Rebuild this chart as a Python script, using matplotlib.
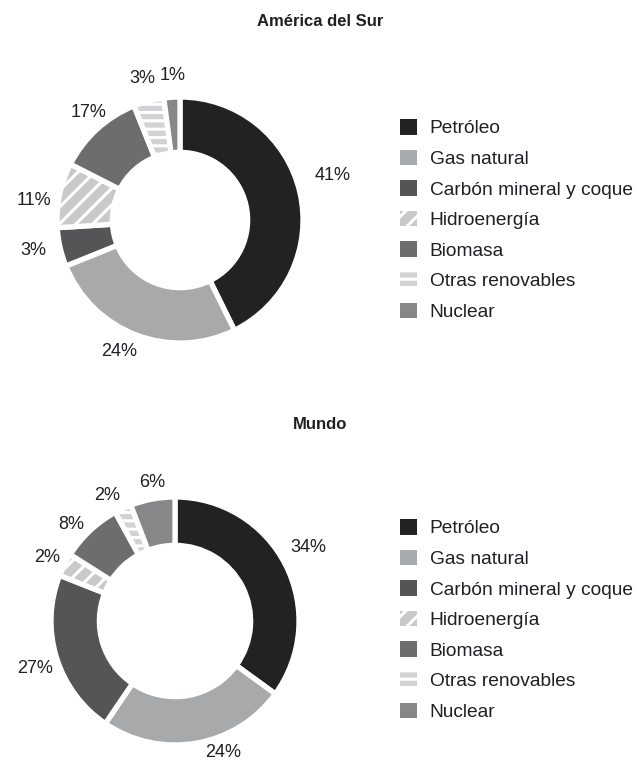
import matplotlib
matplotlib.use('Agg')
import matplotlib.pyplot as plt
from matplotlib.patches import Patch
import numpy as np

W, H = 638, 764

sources = ['Petróleo', 'Gas natural', 'Carbón mineral y coque', 'Hidroenergía',
           'Biomasa', 'Otras renovables', 'Nuclear']
# printed labels
sur_pct = [41, 24, 3, 11, 17, 3, 1]
mundo_pct = [34, 24, 27, 2, 8, 2, 6]
# wedge sizes as drawn in the source chart (they do not follow the labels exactly)
sur_drawn = [42.7, 26.2, 5.1, 8.5, 11.4, 4.0, 2.1]
mundo_drawn = [35.0, 24.5, 21.5, 3.0, 8.0, 2.2, 5.8]

colors = ['#222222', '#a8a9ab', '#555557', '#c9c9cb', '#6d6d6f', '#d2d2d4', '#878789']
hatches = [None, None, None, '//', None, '--', None]
TXT = '#1f1f24'

# label placement: (angle shift from wedge middle in degrees, radius)
sur_lbl = [(3, 1.29), (-4, 1.18), (-1, 1.22), (4, 1.20), (-2, 1.15), (0, 1.19), (-1, 1.18)]
mundo_lbl = [(2, 1.23), (10, 1.13), (1.5, 1.19), (0.5, 1.15), (4, 1.14), (3.5, 1.15), (-1, 1.13)]

plt.rcParams['font.family'] = ['Liberation Sans', 'DejaVu Sans']
plt.rcParams['hatch.linewidth'] = 2.2

fig = plt.figure(figsize=(W / 100, H / 100), dpi=100)


def px_axes(cx, cy, r):
    return fig.add_axes([(cx - r) / W, (H - cy - r) / H, 2 * r / W, 2 * r / H])


def donut(ax, sizes, labels, width, lbl_pos):
    wedges, _ = ax.pie(sizes, colors=colors, startangle=90, counterclock=False,
                       wedgeprops=dict(width=width, edgecolor='white', linewidth=3.8))
    for w, h in zip(wedges, hatches):
        if h:
            w.set_hatch(h)
    ax.set_xlim(-1, 1)
    ax.set_ylim(-1, 1)
    for w, v, (shift, r) in zip(wedges, labels, lbl_pos):
        ang = np.deg2rad((w.theta1 + w.theta2) / 2 + shift)
        ax.text(r * np.cos(ang), r * np.sin(ang), f'{v}%',
                ha='center', va='center', fontsize=13, color=TXT)


def legend_at(x, y_top):
    handles = [Patch(facecolor=c, edgecolor='white', linewidth=0, hatch=h)
               for c, h in zip(colors, hatches)]
    fig.legend(handles, sources, loc='upper left',
               bbox_to_anchor=(x / W, (H - y_top) / H), frameon=False,
               fontsize=13.8, handlelength=0.88, handleheight=0.88,
               handletextpad=0.66, labelspacing=0.634, borderpad=0,
               borderaxespad=0, labelcolor=TXT)


fig.text(320 / W, 1 - 22 / H, 'América del Sur', ha='center', va='center',
         fontsize=12, fontweight='bold', color=TXT)
ax1 = px_axes(180, 220, 123)
donut(ax1, sur_drawn, sur_pct, 0.45, sur_lbl)
legend_at(400, 119)

fig.text(320 / W, 1 - 425 / H, 'Mundo', ha='center', va='center',
         fontsize=12, fontweight='bold', color=TXT)
ax2 = px_axes(175, 621, 124)
donut(ax2, mundo_drawn, mundo_pct, 0.39, mundo_lbl)
legend_at(400, 519)

fig.savefig('out.png', dpi=100)
